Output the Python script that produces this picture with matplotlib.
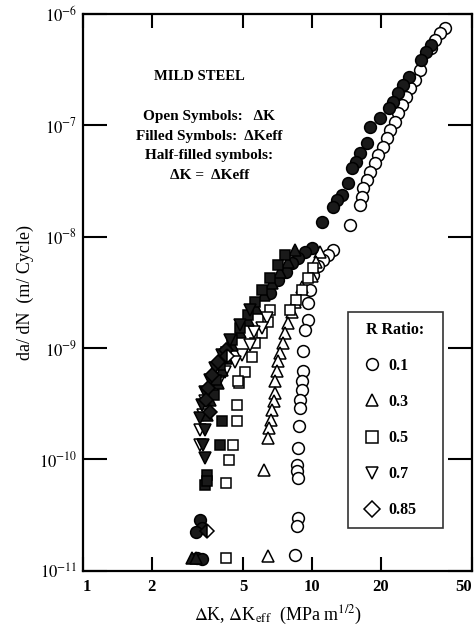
import matplotlib
matplotlib.use("Agg")
import matplotlib.pyplot as plt
from matplotlib.ticker import FixedLocator, FixedFormatter, NullLocator

plt.rcParams['font.family'] = ['Liberation Serif', 'DejaVu Serif']
plt.rcParams['mathtext.fontset'] = 'stix'

# ---------------- data ----------------
# R = 0.1
r01_dk_x = [38.1, 36.2, 34.4, 33.0, 29.6, 28.2, 26.8, 25.7, 24.7, 23.8, 23.0, 21.9, 21.3, 20.4,
            19.4, 18.8, 17.9, 17.4, 16.7, 16.5, 16.2, 14.7, 12.4, 11.7, 11.2, 10.6, 10.1, 9.8,
            9.6, 9.6, 9.3, 9.1, 9.1, 9.0, 9.0, 8.9, 8.9, 8.8, 8.7, 8.6, 8.6, 8.7, 8.7, 8.6, 8.4]
r01_dk_y = [7.5e-7, 6.7e-7, 5.8e-7, 4.9e-7, 3.14e-7, 2.56e-7, 2.17e-7, 1.80e-7, 1.52e-7, 1.29e-7,
            1.07e-7, 9.1e-8, 7.7e-8, 6.4e-8, 5.4e-8, 4.6e-8, 3.8e-8, 3.2e-8, 2.74e-8, 2.28e-8,
            1.93e-8, 1.28e-8, 7.6e-9, 6.9e-9, 6.2e-9, 5.4e-9, 4.5e-9, 3.3e-9, 2.55e-9, 1.79e-9,
            1.46e-9, 9.4e-10, 6.2e-10, 5.1e-10, 4.2e-10, 3.43e-10, 2.9e-10, 2.0e-10, 1.27e-10,
            8.9e-11, 7.9e-11, 6.8e-11, 3.0e-11, 2.54e-11, 1.39e-11]
r01_eff_x = [33.1, 31.5, 29.9, 26.5, 25.0, 23.8, 22.6, 21.7, 19.8, 17.9, 17.4, 16.2, 15.6, 15.0,
             14.4, 13.5, 12.9, 12.4, 11.1, 10.0, 9.32, 8.69, 8.18, 7.70, 7.11, 6.56,
             3.24, 3.31, 3.11, 3.15, 3.31]
r01_eff_y = [5.27e-7, 4.56e-7, 3.87e-7, 2.72e-7, 2.31e-7, 1.95e-7, 1.62e-7, 1.43e-7, 1.16e-7,
             9.7e-8, 6.9e-8, 5.65e-8, 4.7e-8, 4.15e-8, 3.04e-8, 2.37e-8, 2.14e-8, 1.85e-8,
             1.36e-8, 7.93e-9, 7.31e-9, 6.46e-9, 5.82e-9, 4.83e-9, 4.09e-9, 3.13e-9,
             2.87e-11, 2.43e-11, 2.24e-11, 1.31e-11, 1.28e-11]
# R = 0.3
r03_dk_x = [10.8, 10.4, 10.0, 9.0, 8.4, 8.18, 7.86, 7.62, 7.5, 7.25, 7.11, 7.0, 6.9, 6.9, 6.8,
            6.69, 6.6, 6.5, 6.43, 6.17, 6.43]
r03_dk_y = [7.3e-9, 5.9e-9, 4.4e-9, 3.5e-9, 2.6e-9, 2.11e-9, 1.68e-9, 1.37e-9, 1.11e-9, 9.1e-10,
            7.7e-10, 6.2e-10, 5.1e-10, 3.96e-10, 3.36e-10, 2.79e-10, 2.27e-10, 1.92e-10, 1.56e-10,
            8.1e-11, 1.36e-11]
r03_eff_x = [8.43, 7.86, 7.25, 6.69, 6.17, 5.69, 5.26, 4.85, 4.47, 4.21, 4.05, 3.89, 3.59, 3.48,
             2.99, 3.11]
r03_eff_y = [7.62e-9, 5.94e-9, 4.83e-9, 3.85e-9, 3.01e-9, 2.30e-9, 1.79e-9, 1.40e-9, 1.07e-9,
             8.2e-10, 6.4e-10, 4.9e-10, 3.43e-10, 2.51e-10, 1.31e-11, 1.31e-11]
# R = 0.5
r05_dk_x = [10.1, 9.6, 9.0, 8.5, 8.0, 6.56, 6.43, 6.05, 5.64, 5.47, 5.1, 4.8, 4.75, 4.7, 4.7,
            4.52, 4.34, 4.21, 4.21]
r05_dk_y = [5.25e-9, 4.27e-9, 3.33e-9, 2.71e-9, 2.2e-9, 2.2e-9, 1.72e-9, 1.37e-9, 1.11e-9,
            8.3e-10, 6.1e-10, 4.9e-10, 5.1e-10, 3.09e-10, 2.22e-10, 1.35e-10, 9.9e-11, 6.2e-11,
            1.31e-11]
r05_eff_x = [7.62, 7.11, 6.56, 6.05, 5.64, 5.26, 4.85, 4.47, 4.21, 3.97, 3.81, 3.73, 4.05, 3.97,
             3.48, 3.41, 3.48]
r05_eff_y = [6.87e-9, 5.59e-9, 4.27e-9, 3.33e-9, 2.60e-9, 1.99e-9, 1.52e-9, 1.19e-9, 9.2e-10,
             7.1e-10, 5.2e-10, 3.8e-10, 2.22e-10, 1.35e-10, 7.3e-11, 5.9e-11, 6.4e-11]
# R = 0.7
r07_dk_x = [6.36, 6.05, 5.58, 5.36, 4.95, 4.61, 4.17, 3.89, 3.70, 3.41, 3.34, 3.24, 3.24]
r07_dk_y = [1.87e-9, 1.52e-9, 1.40e-9, 1.07e-9, 8.7e-10, 7.5e-10, 6.1e-10, 4.9e-10, 3.96e-10,
            3.36e-10, 2.51e-10, 1.85e-10, 1.35e-10]
r07_eff_x = [5.36, 4.85, 4.38, 4.05, 3.77, 3.59, 3.41, 3.31, 3.24, 3.41, 3.34, 3.41]
r07_eff_y = [2.20e-9, 1.62e-9, 1.19e-9, 8.7e-10, 6.6e-10, 5.2e-10, 4.05e-10, 3.09e-10, 2.36e-10,
             1.85e-10, 1.35e-10, 1.03e-10]
# R = 0.85
r085_eff_x = [4.21, 3.89, 3.66, 3.51, 3.44, 3.59]
r085_eff_y = [9.6e-10, 7.5e-10, 5.7e-10, 4.4e-10, 3.43e-10, 2.67e-10]
r085_half_x = [4.25, 3.48]
r085_half_y = [8.5e-10, 2.29e-11]

legend_labels = ['0.1', '0.3', '0.5', '0.7', '0.85']
legend_markers = ['o', '^', 's', 'v', 'D']
xticks = [1, 2, 5, 10, 20, 50]
xticklabels = ['1', '2', '5', '10', '20', '50']
yticks = [1e-11, 1e-10, 1e-9, 1e-8, 1e-7, 1e-6]
yticklabels = [r'$10^{-11}$', r'$10^{-10}$', r'$10^{-9}$', r'$10^{-8}$', r'$10^{-7}$', r'$10^{-6}$']

# ---------------- figure ----------------
fig = plt.figure(figsize=(4.74, 6.26), dpi=100)
ax = fig.add_axes([0.175, 0.088, 0.821, 0.890])
ax.set_xscale('log')
ax.set_yscale('log')

ms = 8.5
ew = 1.1
def openp(x, y, m, s=ms):
    ax.plot(x, y, ls='none', marker=m, ms=s, mfc='white', mec='black', mew=ew, zorder=3)
def fillp(x, y, m, s=ms):
    ax.plot(x, y, ls='none', marker=m, ms=s, mfc='#1a1a1a', mec='black', mew=ew, zorder=4)

openp(r01_dk_x, r01_dk_y, 'o')
openp(r03_dk_x, r03_dk_y, '^')
openp(r05_dk_x, r05_dk_y, 's', 7.5)
openp(r07_dk_x, r07_dk_y, 'v')
fillp(r01_eff_x, r01_eff_y, 'o')
fillp(r03_eff_x, r03_eff_y, '^')
fillp(r05_eff_x, r05_eff_y, 's', 7.5)
fillp(r07_eff_x, r07_eff_y, 'v')
fillp(r085_eff_x, r085_eff_y, 'D', 7)
ax.plot(r085_half_x, r085_half_y, ls='none', marker='D', ms=7, fillstyle='left',
        mfc='#1a1a1a', mfcalt='white', mec='black', mew=ew, zorder=5)

ax.set_xlim(1, 50)
ax.set_ylim(1e-11, 1e-6)
ax.xaxis.set_major_locator(FixedLocator(xticks))
ax.xaxis.set_major_formatter(FixedFormatter(xticklabels))
ax.xaxis.set_minor_locator(NullLocator())
ax.yaxis.set_major_locator(FixedLocator(yticks))
ax.yaxis.set_major_formatter(FixedFormatter(yticklabels))
ax.yaxis.set_minor_locator(NullLocator())

for s in ax.spines.values():
    s.set_linewidth(1.6)
ax.tick_params(axis='x', which='major', direction='in', length=10, width=1.5,
               top=True, bottom=True, labelsize=12, pad=6)
ax.tick_params(axis='y', which='major', direction='in', length=17, width=1.5,
               left=True, right=True, labelsize=12, pad=4)
fig.canvas.draw()
for lab in ax.get_xticklabels() + ax.get_yticklabels():
    lab.set_fontweight('bold')
ax.get_xticklabels()[-1].set_horizontalalignment('right')
ax.get_xticklabels()[0].set_horizontalalignment('left')

ax.set_xlabel(r'$\Delta$K, $\Delta$K$_{\rm eff}$  (MPa m$^{1/2}$)', fontsize=13, labelpad=6)
ax.set_ylabel('da/ dN  (m/ Cycle)', fontsize=13, labelpad=4)

# annotations
ax.text(0.30, 0.887, 'MILD STEEL', transform=ax.transAxes, ha='center', va='center',
        fontsize=10.5, fontweight='bold')
notes = ['Open Symbols:   \u0394K', 'Filled Symbols:  \u0394Keff', 'Half-filled symbols:',
         '\u0394K =  \u0394Keff']
for i, t in enumerate(notes):
    ax.text(0.325, 0.815 - i * 0.035, t, transform=ax.transAxes, ha='center', va='center',
            fontsize=11, fontweight='bold')

# legend
handles = [plt.Line2D([], [], ls='none', marker=m, ms=ms, mfc='white', mec='black', mew=ew)
           for m in legend_markers]
leg = ax.legend(handles, legend_labels, title='R Ratio:', loc='lower left',
                bbox_to_anchor=(0.681, 0.077, 0.244, 0.388), mode='expand',
                frameon=True, fancybox=False,
                edgecolor='black', labelspacing=1.26, handletextpad=0.1, borderpad=0.6,
                handlelength=1.8, borderaxespad=0.0,
                prop={'size': 11.5, 'weight': 'bold'},
                title_fontproperties={'size': 11.5, 'weight': 'bold'})
leg.get_frame().set_linewidth(1.2)

fig.savefig('out.png', dpi=100)
